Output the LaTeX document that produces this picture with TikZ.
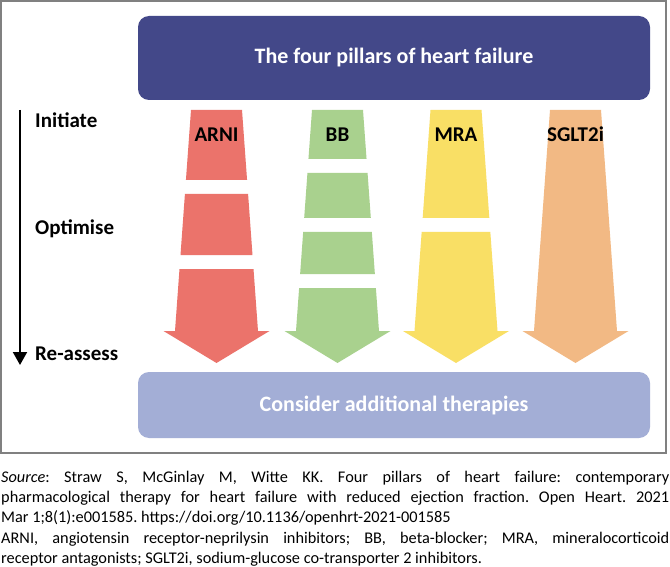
\documentclass[tikz,border=0pt]{standalone}
\usepackage{fontspec}
\setmainfont{Carlito}
\usetikzlibrary{arrows.meta}
\definecolor{titlebg}{HTML}{434889}
\definecolor{bottombg}{HTML}{A3AED6}
\definecolor{arnic}{HTML}{EB736B}
\definecolor{bbc}{HTML}{A9D18E}
\definecolor{mrac}{HTML}{F9DF65}
\definecolor{sgltc}{HTML}{F2B984}
\definecolor{framec}{HTML}{808080}
\frenchspacing
\hyphenpenalty=10000
\exhyphenpenalty=10000
% segment of a tapered pillar: centre x, top y, bottom y, colour
\newcommand\pillarseg[4]{%
  \fill[#4] ({#1-25.5-16*(#2-110)/221},#2) -- ({#1+25.5+16*(#2-110)/221},#2)
    -- ({#1+25.5+16*(#3-110)/221},#3) -- ({#1-25.5-16*(#3-110)/221},#3) -- cycle;}
% last segment with the arrow head: centre x, top y, colour
\newcommand\pillarhead[3]{%
  \fill[#3] ({#1-25.5-16*(#2-110)/221},#2) -- ({#1+25.5+16*(#2-110)/221},#2)
    -- ({#1+41.5},331) -- ({#1+53},331) -- (#1,363) -- ({#1-53},331)
    -- ({#1-41.5},331) -- cycle;}
\tikzset{
  bigbox/.style={rounded corners=11pt, minimum width=512pt, inner sep=0pt,
    text=white, font=\bfseries\fontsize{22}{26}\selectfont},
  stagelabel/.style={anchor=base west, inner sep=0pt, font=\bfseries\fontsize{21}{25}\selectfont},
  pillarlabel/.style={anchor=base, inner sep=0pt, font=\bfseries\fontsize{21}{25}\selectfont},
  captiontext/.style={anchor=north west, inner sep=0pt, text width=668pt, align=justify,
    font=\fontsize{16.3}{20}\selectfont},
}
\begin{document}
\begin{tikzpicture}[x=1pt,y=-1pt]
\useasboundingbox (0,0) rectangle (670,567);
\fill[white] (0,0) rectangle (670,567);
\draw[framec, line width=1.2pt] (1,1) rectangle (666,453);

\node[bigbox, fill=titlebg, minimum height=84pt] (title) at (394,58) {The four pillars of heart failure};
\node[bigbox, fill=bottombg, minimum height=66pt] (consider) at (394,405) {Consider additional therapies};

% ARNI
\pillarseg{216.5}{110}{180}{arnic}
\pillarseg{216.5}{194}{255}{arnic}
\pillarhead{216.5}{269}{arnic}
% BB
\pillarseg{337.5}{110}{159}{bbc}
\pillarseg{337.5}{173}{218}{bbc}
\pillarseg{337.5}{232}{274}{bbc}
\pillarhead{337.5}{288}{bbc}
% MRA
\pillarseg{456}{110}{218}{mrac}
\pillarhead{456}{232}{mrac}
% SGLT2i
\pillarhead{575.5}{110}{sgltc}

\node[pillarlabel] (arni) at (216.5,142) {ARNI};
\node[pillarlabel] (bb) at (337.5,142) {BB};
\node[pillarlabel] (mra) at (456,142) {MRA};
\node[pillarlabel] (sglt) at (575.5,142) {SGLT2i};

\coordinate (axtop) at (20,110);
\coordinate (axbot) at (20,365);
\draw[line width=2pt, -{Triangle[width=14pt,length=13pt]}] (axtop) -- (axbot);
\node[stagelabel] (initiate) at (35,128) {Initiate};
\node[stagelabel] (optimise) at (35,235) {Optimise};
\node[stagelabel] (reassess) at (35,360) {Re-assess};

\node[captiontext] (source) at (1,468) {\strut\textit{Source}: Straw S, McGinlay M, Witte KK. Four pillars of heart failure: contemporary\linebreak pharmacological therapy for heart failure with reduced ejection fraction. Open Heart. 2021\linebreak Mar 1;8(1):e001585. https://doi.org/10.1136/openhrt-2021-001585};
\node[captiontext] (abbrev) at (1,529) {\strut ARNI, angiotensin receptor-neprilysin inhibitors; BB, beta-blocker; MRA, mineralocorticoid\linebreak receptor antagonists; SGLT2i, sodium-glucose co-transporter 2 inhibitors.};
\end{tikzpicture}
\end{document}
